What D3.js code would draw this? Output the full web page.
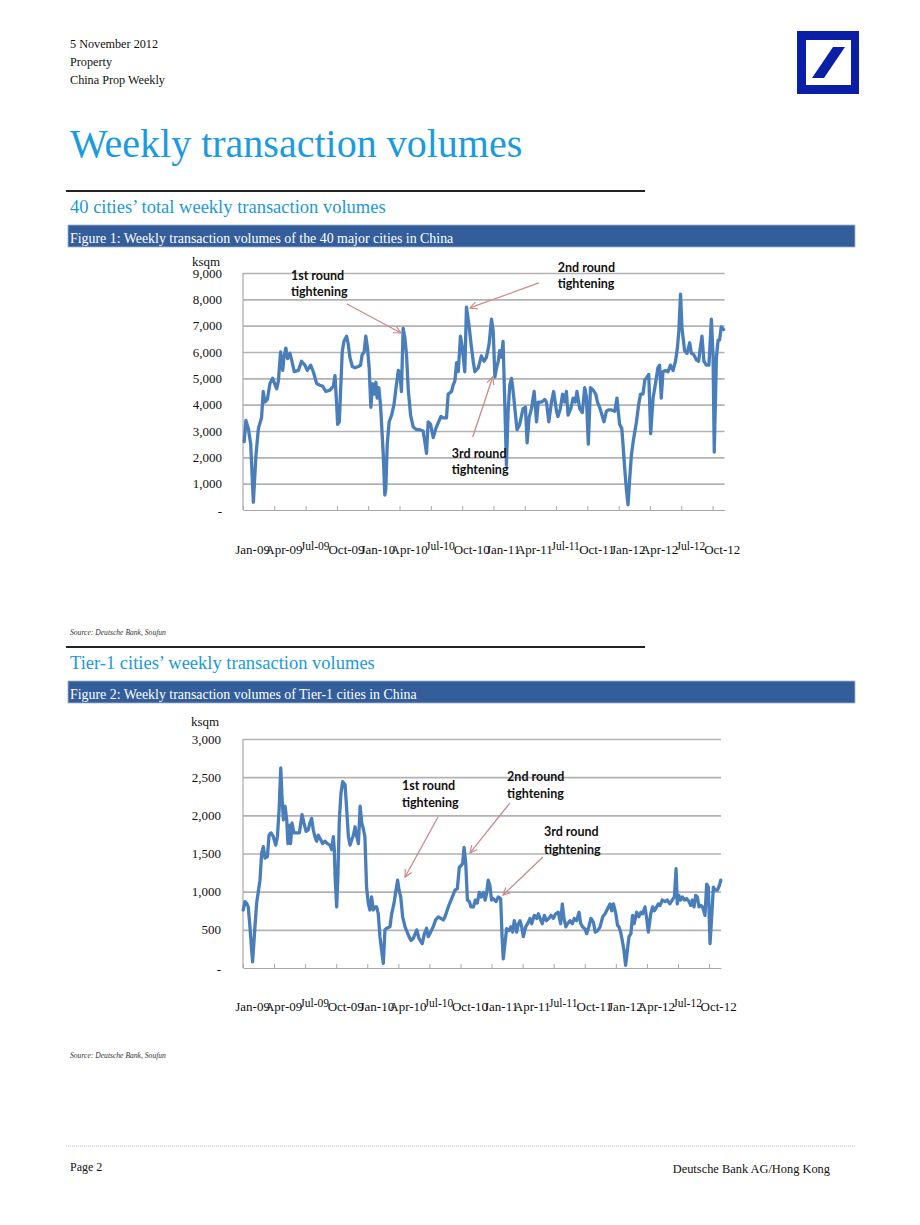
<!DOCTYPE html>
<html><head><meta charset="utf-8">
<script src="https://cdn.jsdelivr.net/npm/d3@7"></script>
<style>body{margin:0;background:#fff}</style>
</head><body><svg id="c" width="920" height="1225"></svg>
<script>
// ---------- DATA ----------
const xLabels = ["Jan-09","Apr-09","Jul-09","Oct-09","Jan-10","Apr-10","Jul-10","Oct-10","Jan-11","Apr-11","Jul-11","Oct-11","Jan-12","Apr-12","Jul-12","Oct-12"];
const yTicks1 = [0,1000,2000,3000,4000,5000,6000,7000,8000,9000];
const yTicks2 = [0,500,1000,1500,2000,2500,3000];

// Figure 1: 40 cities, week number since first week of Jan-09, ksqm
const weeks1 = [0.5,1.2,2.2,3.2,4.3,5.4,6.4,7.7,8.4,9.1,10.1,11.2,12.3,14.0,14.7,15.6,16.5,17.0,17.8,18.5,19.5,20.3,21.3,23.0,24.3,25.7,26.7,28.1,29.2,30.6,31.7,33.1,34.4,36.1,37.5,38.2,38.9,39.3,40.0,40.7,41.2,41.9,43.0,43.7,44.4,45.4,46.5,47.9,48.8,49.5,50.3,51.0,51.7,52.4,53.1,53.8,54.5,55.2,55.7,56.4,57.1,58.2,58.9,59.3,59.9,60.7,61.7,62.7,63.5,64.5,65.1,65.8,66.5,67.2,67.9,68.6,69.6,70.7,72.1,73.4,74.8,75.5,76.2,76.9,77.9,79.0,80.1,81.0,82.2,83.1,84.5,85.2,86.6,87.3,88.0,88.7,89.4,90.3,91.1,92.1,92.8,93.8,94.9,95.6,96.3,97.7,99.0,100.1,101.1,102.2,103.2,103.9,104.6,105.3,106.0,106.6,107.3,108.0,108.7,109.4,110.1,110.8,111.5,112.2,112.9,113.8,114.9,116.3,117.3,118.0,118.8,119.8,120.9,121.9,122.6,124.0,125.3,126.0,127.0,128.1,129.0,130.2,130.8,131.8,132.7,133.6,134.3,135.0,136.1,137.1,138.0,138.7,139.8,140.9,141.9,142.6,143.4,144.3,145.4,146.5,147.2,148.1,149.1,149.9,150.9,151.6,153.0,154.4,155.3,156.4,157.3,157.8,158.5,159.2,159.9,160.6,161.3,162.2,163.4,164.3,165.1,166.1,166.9,167.5,168.5,169.3,170.3,171.2,172.3,173.0,173.7,174.4,175.4,176.5,177.5,178.6,179.6,180.4,181.0,181.7,182.3,183.4,184.4,185.5,186.2,187.2,188.3,189.2,189.9,190.6,191.4,192.4,193.5,194.5,195.2,195.7,196.6,197.3,197.9,198.6,199.6];
const vol1 = [2600,3400,3100,2500,300,2100,3100,3500,4500,4100,4200,4800,5000,4600,4900,6000,5300,5800,6150,5750,5950,5650,5250,5300,5650,5500,5300,5500,5250,4800,4750,4700,4500,4550,4700,5100,4000,3250,3350,4900,6000,6400,6600,6300,5800,5450,5400,5450,5500,5900,6000,6600,6150,5400,3900,4800,4400,4850,4250,4650,4000,2200,570,800,2500,3350,3600,4000,4600,5300,5250,4500,6900,6550,5900,4600,3600,3150,3050,3050,3000,2600,2150,3350,3250,2750,3100,3300,3550,3500,3500,4400,4500,4750,4900,5600,5250,6600,6150,5250,7700,7050,6150,5650,5250,5400,5850,5650,5800,6300,7250,6800,5050,5400,5650,6050,5800,6400,4100,1700,3750,4750,5000,4500,3850,3050,3250,3850,3900,2550,3500,3850,4500,3350,4100,4100,4200,4100,3350,4100,4500,3750,3550,3850,4400,4100,4500,3600,3850,4250,4100,4500,3850,3700,4650,4300,2500,4650,4550,4400,4100,3900,3600,3350,3750,3800,3800,3750,4250,3250,3100,2500,1600,800,200,1200,2100,2700,3350,4000,4400,4400,4950,5000,5150,2900,4250,4750,5400,5500,4250,5250,5300,5250,5500,5300,5650,6150,6800,8200,6900,6050,5950,6350,5950,5900,5700,5650,6150,6600,5650,5500,5500,7250,5900,2200,5800,6450,6450,6950,6850];

// Figure 2: Tier-1 cities, ksqm
const weeks2 = [0.1,0.8,1.5,2.2,2.9,4.0,5.0,5.7,6.4,7.1,7.8,8.5,9.2,10.2,10.9,11.7,12.7,13.7,14.4,15.1,15.8,16.3,16.9,17.6,18.3,18.8,19.4,19.9,20.5,21.3,22.5,23.6,24.7,25.5,26.4,27.3,28.0,28.7,29.4,30.1,30.8,31.5,32.2,33.3,34.3,35.3,36.4,37.1,37.8,38.2,38.6,39.2,39.7,40.3,41.0,41.7,42.7,43.4,44.1,44.8,45.5,46.2,46.9,47.6,48.3,49.0,49.7,50.3,51.0,51.7,52.4,53.1,53.8,54.5,55.2,55.9,56.6,57.3,58.0,58.7,59.4,60.1,61.5,62.2,63.2,64.0,64.7,65.3,66.0,66.8,67.8,69.2,70.3,71.3,72.7,73.6,75.0,75.9,76.8,77.5,78.5,79.6,80.6,81.7,83.8,84.5,85.9,87.3,88.7,89.7,90.5,91.2,91.9,92.5,93.2,93.9,94.7,95.4,96.4,97.2,98.0,98.9,99.7,100.6,101.3,101.9,102.6,103.3,104.0,104.7,105.9,106.8,107.8,108.4,108.9,109.6,110.3,111.3,112.1,112.8,113.5,114.5,115.2,115.9,116.6,117.3,118.3,119.1,120.1,120.8,121.9,122.9,123.6,124.3,125.2,126.1,127.0,128.0,128.9,129.8,130.8,131.9,132.9,133.6,134.3,135.1,135.8,136.8,137.8,138.6,139.6,140.6,141.3,142.1,143.1,143.8,144.7,145.6,146.6,147.4,148.4,149.4,150.5,151.5,152.6,153.6,154.3,155.0,156.0,156.7,157.3,158.0,158.7,159.4,160.1,160.8,161.5,162.3,163.0,163.7,164.7,165.6,166.5,167.2,168.2,168.9,169.6,170.6,171.4,172.1,173.1,173.8,174.5,175.4,176.6,177.5,178.6,179.6,180.5,181.2,181.7,182.4,183.1,183.8,184.7,185.6,186.6,187.3,188.0,188.7,189.4,190.1,190.8,191.6,192.3,193.3,194.0,194.7,195.4,196.1,196.8,197.5,198.5,199.3,199.9];
const vol2 = [760,870,850,800,540,80,540,850,1000,1150,1500,1590,1440,1460,1740,1770,1720,1610,1720,2070,2620,2250,1940,2120,1940,1630,1870,1630,1900,1770,1770,1770,2010,1900,1790,1810,1900,1960,1810,1720,1660,1740,1700,1630,1660,1630,1610,1550,1720,1550,1150,800,1200,1940,2290,2440,2400,2070,1720,1610,1680,1740,1850,1720,1630,2120,1900,1830,1720,1060,850,760,930,760,800,800,710,410,230,60,500,520,540,710,850,1020,1150,1020,930,670,540,430,360,390,500,390,320,450,520,410,470,540,630,670,630,670,800,910,1020,1040,1320,1340,1370,1580,1370,890,870,800,800,890,850,990,930,990,890,970,1150,1080,890,910,870,930,910,410,120,320,515,490,540,470,620,470,580,620,540,410,540,580,650,580,690,650,710,650,580,690,620,650,690,650,710,730,580,840,650,540,580,620,580,650,620,730,580,540,510,450,540,650,600,470,490,540,670,710,780,840,750,840,710,560,540,470,360,230,35,230,410,450,690,580,730,670,730,710,800,650,470,710,800,750,800,840,820,890,870,890,840,890,930,1300,840,950,890,930,890,910,870,820,890,800,950,930,800,820,800,690,1100,1060,320,670,1060,1020,1020,1080,1150];

// Annotations (data units: week, ksqm)
const notes1 = [
  {lines:["1st round","tightening"], at:[19.9,8735], from:[43.2,7824], to:[65.6,6722]},
  {lines:["2nd round","tightening"], at:[130.7,9039], from:[122.8,8621], to:[94.2,7672]},
  {lines:["3rd round","tightening"], at:[86.7,1975], from:[95.4,2773], to:[103.7,5051]}
];
const notes2 = [
  {lines:["1st round","tightening"], at:[66.5,2332], from:[81.6,1978], to:[67.8,1192]},
  {lines:["2nd round","tightening"], at:[110.5,2450], from:[111.7,2162], to:[95.0,1507]},
  {lines:["3rd round","tightening"], at:[125.9,1729], from:[125.5,1454], to:[108.8,956]}
];

// ---------- DRAW ----------
const svg = d3.select('#c');
const serif = "'Liberation Serif','Times New Roman',serif";
const defs = svg.append('defs');
defs.append('marker').attr('id','arr').attr('viewBox','0 0 10 10').attr('refX',9).attr('refY',5)
  .attr('markerWidth',9).attr('markerHeight',9).attr('orient','auto').attr('markerUnits','userSpaceOnUse')
  .append('path').attr('d','M1,1 L9,5 L1,9').attr('fill','none').attr('stroke','#c98a8a').attr('stroke-width',1.3);

// header
const hdr = ["5 November 2012","Property","China Prop Weekly"];
svg.selectAll('text.hdr').data(hdr).join('text').attr('class','hdr')
  .attr('x',70).attr('y',(d,i)=>48+i*18).attr('font-family',serif).attr('font-size',12.2).attr('fill','#111').text(d=>d);

// logo
svg.append('rect').attr('x',797).attr('y',31).attr('width',62).attr('height',63).attr('fill','#0a1fa6');
svg.append('rect').attr('x',806).attr('y',40).attr('width',45).attr('height',45).attr('fill','#fff');
svg.append('polygon').attr('points','812,78 824,78 845,47 833,47').attr('fill','#0a1fa6');

// title
svg.append('text').attr('x',70).attr('y',157).attr('font-family',serif).attr('font-size',40).attr('fill','#1a9be0').text('Weekly transaction volumes');

function section(y0, heading, fig, source, sourceY){
  svg.append('rect').attr('x',66).attr('y',y0).attr('width',579).attr('height',2).attr('fill','#222');
  svg.append('text').attr('x',70).attr('y',y0+23).attr('font-family',serif).attr('font-size',18.5).attr('fill','#1a9ad8').text(heading);
  svg.append('rect').attr('x',68).attr('y',y0+35).attr('width',787).attr('height',22).attr('fill','#335e9b').attr('stroke','#9fb3cf').attr('stroke-width',0.8);
  svg.append('text').attr('x',70).attr('y',y0+53).attr('font-family',serif).attr('font-size',13.9).attr('fill','#fff').text(fig);
  svg.append('text').attr('x',70).attr('y',sourceY).attr('font-family',serif).attr('font-style','italic').attr('font-size',7.6).attr('fill','#333').text(source);
}
section(190, "40 cities\u2019 total weekly transaction volumes", "Figure 1: Weekly transaction volumes of the 40 major cities in China", "Source: Deutsche Bank, Soufun", 635);
section(646, "Tier-1 cities\u2019 weekly transaction volumes", "Figure 2: Weekly transaction volumes of Tier-1 cities in China", "Source: Deutsche Bank, Soufun", 1058);

function drawChart(cfg){
  const g = svg.append('g');
  const x = d3.scaleLinear().domain([0,200]).range([cfg.left, cfg.right]);
  const y = d3.scaleLinear().domain([0, cfg.yMax]).range([cfg.bottom, cfg.top]);
  // grid
  g.append('g').attr('transform',`translate(${cfg.left},0)`)
    .call(d3.axisLeft(y).tickValues(cfg.yTicks.filter(d=>d>0)).tickSize(-(cfg.right-cfg.left)).tickFormat(''))
    .call(s=>s.select('.domain').remove())
    .selectAll('line').attr('stroke','#b2b2b6').attr('stroke-width',1.6);
  // y axis line
  g.append('line').attr('x1',cfg.left).attr('x2',cfg.left).attr('y1',y(cfg.yMax)).attr('y2',y(0)).attr('stroke','#a8a8a8').attr('stroke-width',1.2);
  // x axis
  g.append('g').attr('transform',`translate(0,${y(0)})`)
    .call(d3.axisBottom(x).tickValues(d3.range(0,196,13)).tickSize(-4).tickSizeOuter(0).tickFormat(''))
    .call(s=>s.select('.domain').attr('stroke','#a8a8a8').attr('stroke-width',1.2))
    .selectAll('line').attr('stroke','#a8a8a8');
  // y labels
  g.append('g').selectAll('text').data(cfg.yTicks).join('text')
    .attr('x',cfg.labelRight).attr('y',d=>y(d)+(d===0?6:4.5)).attr('text-anchor','end')
    .attr('font-family',serif).attr('font-size',13).attr('fill','#111')
    .text(d=>d===0?'-':d3.format(',')(d));
  g.append('text').attr('x',cfg.labelRight-30).attr('y',y(cfg.yMax)-cfg.unitGap).attr('font-family',serif).attr('font-size',13).attr('fill','#111').text('ksqm');
  // x labels
  g.append('g').selectAll('text').data(xLabels).join('text')
    .attr('x',(d,i)=>x(13*i+4)).attr('y',(d,i)=>y(0)+(i%4===2?cfg.xLabDy-4:cfg.xLabDy))
    .attr('text-anchor','middle').attr('font-family',serif)
    .attr('font-size',(d,i)=>i%4===2?11.5:13).attr('fill','#111').text(d=>d);
  // line
  const pts = cfg.weeks.map((w,i)=>[w, cfg.vals[i]]);
  g.append('path').datum(pts)
    .attr('d', d3.line().x(d=>x(d[0])).y(d=>y(d[1])))
    .attr('fill','none').attr('stroke','#4a7ebb').attr('stroke-width',3.3).attr('stroke-linejoin','round').attr('stroke-linecap','round');
  // annotations
  cfg.notes.forEach(n=>{
    g.append('line').attr('x1',x(n.from[0])).attr('y1',y(n.from[1])).attr('x2',x(n.to[0])).attr('y2',y(n.to[1]))
      .attr('stroke','#c98a8a').attr('stroke-width',1.3).attr('marker-end','url(#arr)');
    n.lines.forEach((t,k)=>{
      g.append('text').attr('x',x(n.at[0])).attr('y',y(n.at[1])+k*cfg.noteGap)
        .attr('font-family','Lato, sans-serif').attr('font-weight','bold').attr('font-size',12.5).attr('fill','#111').text(t);
    });
  });
}

drawChart({left:243, right:724.6, top:273, bottom:510, yMax:9000, yTicks:yTicks1, labelRight:222, unitGap:7,
  xLabDy:44, weeks:weeks1, vals:vol1, notes:notes1, noteGap:16.5});
drawChart({left:243, right:721, top:739, bottom:968, yMax:3000, yTicks:yTicks2, labelRight:221, unitGap:13,
  xLabDy:43, weeks:weeks2, vals:vol2, notes:notes2, noteGap:17.5});

// footer
svg.append('line').attr('x1',66).attr('x2',855).attr('y1',1146).attr('y2',1146).attr('stroke','#bbb').attr('stroke-width',1).attr('stroke-dasharray','1,1');
svg.append('text').attr('x',70).attr('y',1171).attr('font-family',serif).attr('font-size',12).attr('fill','#111').text('Page 2');
svg.append('text').attr('x',830).attr('y',1173).attr('text-anchor','end').attr('font-family',serif).attr('font-size',12.4).attr('fill','#111').text('Deutsche Bank AG/Hong Kong');
</script></body></html>
